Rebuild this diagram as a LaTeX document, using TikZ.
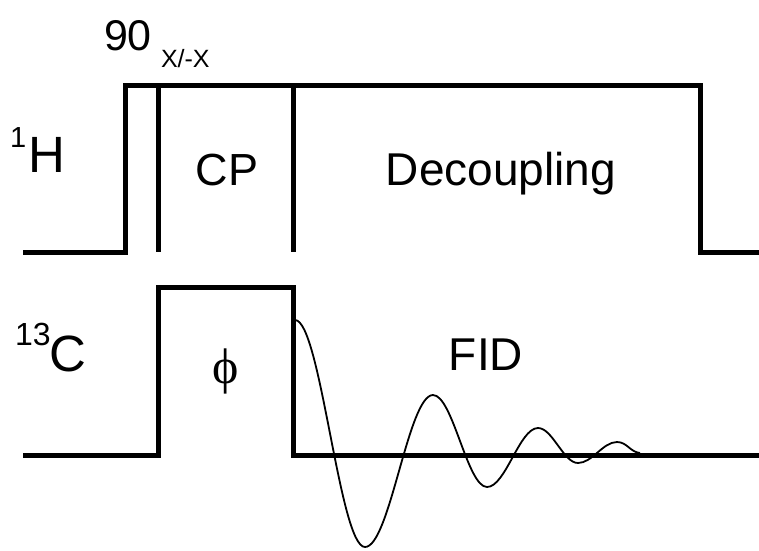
\documentclass[tikz,border=0pt]{standalone}
\usepackage{fontspec}
\setmainfont{Liberation Sans}
\newfontfamily\phifont{Liberation Serif}
\begin{document}
\begin{tikzpicture}[x=1pt,y=-1pt,
  pulse/.style={line width=5pt, line join=miter, line cap=butt},
  fid/.style={line width=1.8pt},
  lbl/.style={inner sep=0pt, outer sep=0pt}]
\useasboundingbox (0,0) rectangle (759,550);
% 1H channel
\draw[pulse] (23,252) -- (125,252) -- (125,85) -- (700,85) -- (700,252) -- (759,252);
\draw[pulse] (158,85) -- (158,252);
\draw[pulse] (293,85) -- (293,252);
% 13C channel
\draw[pulse] (23,455) -- (158,455) -- (158,287) -- (293,287) -- (293,455) -- (759,455);
% FID
\draw[fid] (295,320) .. controls (320.5,320) and (339.5,547) .. (365,547)
  .. controls (389.8,547) and (408.2,395) .. (433,395)
  .. controls (452.7,395) and (467.3,487) .. (487,487)
  .. controls (505.6,487) and (519.4,428) .. (538,428)
  .. controls (552.6,428) and (563.4,463) .. (578,463)
  .. controls (592.2,463) and (602.8,442) .. (617,442)
  .. controls (627,442) and (630,452) .. (640,453);
% labels
\node[lbl, anchor=base west, font=\fontsize{43}{43}\selectfont] (ninety) at (104,50) {90};
\node[lbl, anchor=base west, font=\fontsize{25}{25}\selectfont] (sub) at (161,67) {X/-X};
\node[lbl, anchor=base west, font=\fontsize{29}{29}\selectfont] (hsup) at (10,147) {1};
\node[lbl, anchor=base west, font=\fontsize{51}{51}\selectfont] (H) at (28,172) {H};
\node[lbl, anchor=base, font=\fontsize{45}{45}\selectfont] (CP) at (227,185) {CP};
\node[lbl, anchor=base, font=\fontsize{46}{46}\selectfont] (dec) at (501,185) {Decoupling};
\node[lbl, anchor=base west, font=\fontsize{32}{32}\selectfont] (csup) at (15,345) {13};
\node[lbl, anchor=base west, font=\fontsize{51}{51}\selectfont] (C) at (49,371) {C};
\node[lbl, anchor=base, font=\fontsize{46}{46}\selectfont] (FID) at (486,370) {FID};
\node[lbl, font=\phifont\fontsize{50}{50}\selectfont] (phi) at (226,371) {ϕ};
\end{tikzpicture}
\end{document}
